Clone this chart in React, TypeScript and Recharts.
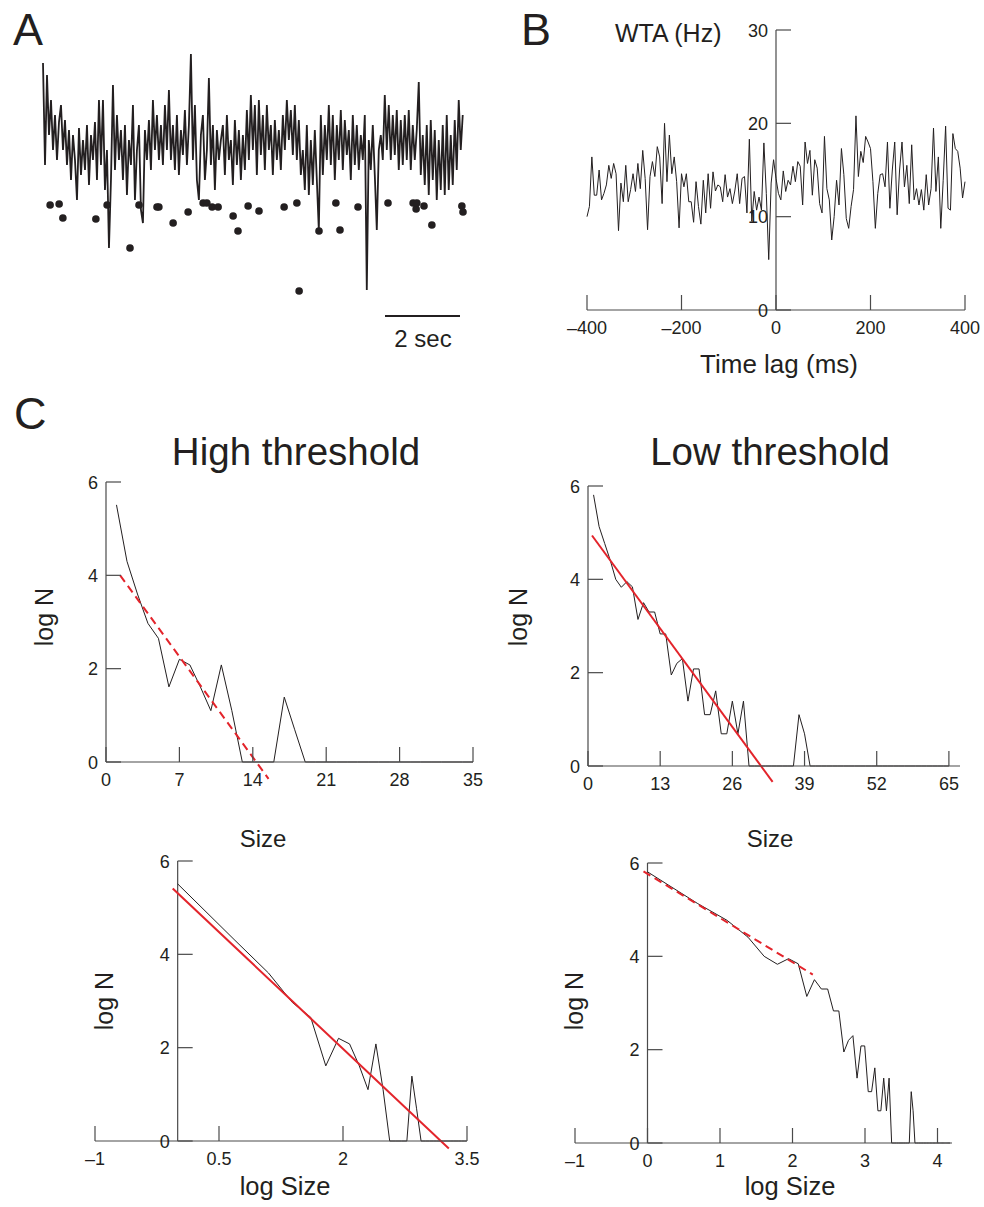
import { ComposedChart, LineChart, Line, Scatter, XAxis, YAxis, ReferenceLine } from "recharts";

const INK = "#231f20";
const AXIS = "#4a4a4a";
const RED = "#e3242b";
const FONT = '"Liberation Sans", Arial, Helvetica, sans-serif';

// A: membrane trace (arbitrary units) and detected events
const traceUnits = [
  237, 135, 225, 165, 200, 150, 185, 140, 178, 195,
  150, 180, 135, 170, 120, 165, 140, 100, 172, 125,
  160, 130, 175, 115, 165, 140, 178, 120, 200, 135,
  200, 110, 150, 52, 120, 215, 130, 185, 140, 170,
  120, 175, 105, 160, 135, 195, 100, 150, 175, 90,
  77, 170, 140, 180, 130, 200, 150, 185, 140, 175,
  135, 195, 150, 210, 140, 175, 130, 185, 125, 170,
  145, 190, 135, 175, 246, 140, 195, 120, 100, 165,
  185, 120, 150, 222, 135, 175, 110, 170, 140, 160,
  175, 125, 185, 140, 160, 115, 180, 135, 170, 120,
  165, 130, 190, 140, 205, 150, 195, 125, 200, 145,
  185, 130, 195, 150, 175, 125, 180, 140, 170, 130,
  185, 150, 200, 160, 190, 145, 195, 140, 180, 125,
  150, 110, 175, 105, 160, 115, 170, 120, 70, 185,
  125, 175, 140, 195, 135, 185, 120, 175, 140, 190,
  130, 180, 145, 170, 120, 185, 135, 175, 130, 165,
  140, 185, 10, 160, 130, 175, 125, 70, 150, 165,
  140, 205, 150, 195, 140, 185, 145, 190, 130, 180,
  135, 185, 140, 190, 130, 175, 140, 170, 218, 125,
  165, 115, 175, 105, 180, 120, 170, 100, 160, 110,
  175, 105, 185, 110, 165, 115, 180, 130, 200, 150,
  185,
];
const traceStepSec = 0.0533;
const eventTimesSec = [
  0.19, 0.43, 0.53, 1.41, 1.71, 2.32, 2.56, 3.04, 3.09, 3.47, 3.87, 4.27, 4.37, 4.51, 4.67, 5.07, 5.2,
  5.47, 5.76, 6.43, 6.77, 6.83, 7.36, 7.81, 7.92, 8.4, 9.2, 9.87, 9.95, 9.97, 10.16, 10.37, 11.17, 11.2,
];
const eventUnits = [
  95, 96, 82, 81, 95, 52, 95, 93, 93, 77, 88, 97, 97, 93, 93, 84, 69,
  94, 89, 93, 97, 9, 69, 97, 70, 93, 97, 97, 91, 97, 94, 75, 94, 88,
];
const scaleBarSec = [9.12, 11.12];

// B: wavelet triggered average
const wtaHz = [
  10.0, 11.1, 16.4, 12.3, 12.3, 15, 11.8, 12.5, 13.4, 15.5,
  14.1, 15.7, 14.6, 8.5, 13.6, 11.6, 15.5, 11.6, 12.9, 14.6,
  12.7, 15.7, 13, 17.1, 14.1, 8.6, 14.3, 15.9, 14.3, 17.5,
  16.4, 11.4, 20, 13.75, 18.75, 14.6, 16.4, 13.75, 8.8, 14.6,
  13.2, 14.6, 11.6, 11.6, 9.4, 13.75, 11.1, 9.2, 13.9, 10.4,
  14.6, 10.9, 14.8, 12.75, 13.4, 13.2, 11.6, 14.5, 12.1, 13,
  11.4, 12.75, 14.6, 11.4, 14.1, 14.3, 10.4, 18.3, 9.5, 12.7,
  10.7, 12.1, 10.7, 17.9, 12.5, 5.4, 13.6, 16.1, 14.1, 12.5,
  11.8, 14.9, 12.7, 13.9, 13.4, 15.4, 13.75, 15.9, 15.4, 11.25,
  18, 15.7, 17.1, 12.3, 16.1, 15.2, 11.4, 10.4, 18.6, 13,
  11.8, 7.5, 10, 13.9, 11.25, 17.3, 14.5, 9.8, 8.75, 11.1,
  12.9, 20.8, 14.3, 17, 15.8, 18.6, 18, 17.3, 13.75, 8.75,
  12.5, 14.5, 14.6, 13.2, 18, 10.9, 15, 18, 10.2, 15,
  18, 13.2, 15.5, 11.4, 17.7, 11.8, 13, 11.25, 12.9, 10.7,
  14.5, 11.25, 13, 19.5, 12.7, 16.4, 8.75, 13.9, 19.7, 10.9,
  10.7, 18.9, 17.3, 17, 15.2, 12, 13.75,
];
const lagTicks = [-400, -200, 0, 200, 400];
const wtaTicks = [0, 10, 20, 30];

// C: avalanche size distributions (log N, natural log)
const sizesHigh = Array.from({ length: 35 }, (_, i) => i + 1);
const logNHigh = [
  5.51, 4.3, 3.6, 2.97, 2.65, 1.61, 2.2, 2.08, 1.61, 1.1,
  2.08, 1.1, 0, 0, 0, 0, 1.39, 0.69, 0, 0,
  0, 0, 0, 0, 0, 0, 0, 0, 0, 0,
  0, 0, 0, 0, 0,
];
const sizesLow = Array.from({ length: 65 }, (_, i) => i + 1);
const logNLow = [
  5.81, 5.13, 4.77, 4.41, 4.0, 3.83, 3.95, 3.84, 3.14, 3.5,
  3.3, 3.3, 2.83, 2.83, 1.95, 2.2, 2.3, 1.39, 2.08, 2.08,
  1.1, 1.1, 1.61, 0.69, 0.69, 1.39, 0.69, 1.39, 0, 0,
  0, 0, 0, 0, 0, 0, 0, 1.1, 0.69, 0,
  0, 0, 0, 0, 0, 0, 0, 0, 0, 0,
  0, 0, 0, 0, 0, 0, 0, 0, 0, 0,
  0, 0, 0, 0, 0,
];
const fitHigh = { x: [1.35, 15.5], y: [4.0, -0.36] };
const fitLow = { x: [0.72, 33.25], y: [4.94, -0.34] };
const fitHighLog = { x: [-0.06, 3.28], y: [5.41, -0.16] };
const fitLowLog = { x: [-0.055, 2.28], y: [5.82, 3.61] };
const logNTicks = [0, 2, 4, 6];

type Fit = { x: number[]; y: number[] };
type Row = { x: number; y: number };

function fmt(v: number) {
  return v < 0 ? "\u2013" + Math.abs(v) : String(v);
}

function XTick(props: any) {
  const { x, y, payload } = props;
  return (
    <g>
      <line x1={x} x2={x} y1={y} y2={y - 15} stroke={AXIS} strokeWidth={1.2} />
      <text x={x} y={y + 24} textAnchor="middle" fontSize={18} fill={INK} fontFamily={FONT}>
        {fmt(payload.value)}
      </text>
    </g>
  );
}

function makeYTick(shift: number) {
  return (props: any) => {
    const { x, y, payload } = props;
    const ax = x + shift;
    return (
      <g>
        <line x1={ax} x2={ax + 15} y1={y} y2={y} stroke={AXIS} strokeWidth={1.2} />
        <text x={ax - 8} y={y + 6.5} textAnchor="end" fontSize={18} fill={INK} fontFamily={FONT}>
          {fmt(payload.value)}
        </text>
      </g>
    );
  };
}

const PAD = 45;

type PanelProps = {
  rect: [number, number, number, number]; // plot x0, y0, x1, y1 on the page
  xDomain: [number, number];
  xTicks: number[];
  yDomain: [number, number];
  yTicks: number[];
  yAxisAt: number;
  data: Row[];
  fit?: Fit;
  dashed?: boolean;
};

function Panel({ rect, xDomain, xTicks, yDomain, yTicks, yAxisAt, data, fit, dashed }: PanelProps) {
  const [x0, y0, x1, y1] = rect;
  const plotW = x1 - x0;
  const shift = ((yAxisAt - xDomain[0]) / (xDomain[1] - xDomain[0])) * plotW;
  // axes take 1px each, so margins are 1px smaller on those sides
  return (
    <div style={{ position: "absolute", left: x0 - PAD, top: y0 - PAD }}>
      <LineChart
        width={plotW + 2 * PAD}
        height={y1 - y0 + 2 * PAD}
        data={data}
        margin={{ top: PAD, right: PAD, bottom: PAD - 1, left: PAD - 1 }}
      >
        <XAxis
          type="number"
          dataKey="x"
          domain={xDomain}
          ticks={xTicks}
          interval={0}
          height={1}
          tickSize={0}
          tickMargin={0}
          tickLine={false}
          axisLine={{ stroke: AXIS, strokeWidth: 1.2 }}
          tick={<XTick />}
        />
        <YAxis
          type="number"
          domain={yDomain}
          ticks={yTicks}
          interval={0}
          width={1}
          tickSize={0}
          tickMargin={0}
          tickLine={false}
          axisLine={false}
          tick={makeYTick(shift)}
        />
        <ReferenceLine x={yAxisAt} stroke={AXIS} strokeWidth={1.2} ifOverflow="visible" />
        <Line
          type="linear"
          dataKey="y"
          stroke={INK}
          strokeWidth={1}
          dot={false}
          isAnimationActive={false}
        />
        {fit ? (
          <ReferenceLine
            segment={[
              { x: fit.x[0], y: fit.y[0] },
              { x: fit.x[1], y: fit.y[1] },
            ]}
            stroke={RED}
            strokeWidth={2}
            strokeDasharray={dashed ? "8 5" : undefined}
            ifOverflow="visible"
          />
        ) : null}
      </LineChart>
    </div>
  );
}

function TraceA() {
  const rows = traceUnits.map((v, i) => ({ t: i * traceStepSec, v }));
  const events = eventTimesSec.map((t, i) => ({ t, v: eventUnits[i] }));
  const x0 = 43;
  const y0 = 50;
  return (
    <div style={{ position: "absolute", left: x0 - PAD, top: y0 - PAD }}>
      <ComposedChart
        width={435 + 2 * PAD}
        height={250 + 2 * PAD}
        data={rows}
        margin={{ top: PAD, right: PAD, bottom: PAD, left: PAD }}
      >
        <XAxis type="number" dataKey="t" domain={[0, 11.6]} hide height={0} />
        <YAxis type="number" domain={[0, 250]} hide width={0} />
        <Line
          type="linear"
          dataKey="v"
          stroke={INK}
          strokeWidth={1.8}
          dot={false}
          isAnimationActive={false}
        />
        <Scatter
          data={events}
          dataKey="v"
          isAnimationActive={false}
          shape={(p: any) => <circle cx={p.cx} cy={p.cy} r={3.8} fill={INK} />}
        />
        <ReferenceLine
          segment={[
            { x: scaleBarSec[0], y: -16 },
            { x: scaleBarSec[1], y: -16 },
          ]}
          stroke={INK}
          strokeWidth={2}
          ifOverflow="visible"
        />
      </ComposedChart>
    </div>
  );
}

function Labels() {
  const t = (x: number, y: number, s: number, txt: string, anchor = "middle") => (
    <text x={x} y={y} fontSize={s} textAnchor={anchor} fill={INK} fontFamily={FONT}>
      {txt}
    </text>
  );
  const rot = (x: number, y: number, txt: string) => (
    <text
      x={x}
      y={y}
      fontSize={25}
      textAnchor="middle"
      fill={INK}
      fontFamily={FONT}
      transform={`rotate(-90 ${x} ${y})`}
    >
      {txt}
    </text>
  );
  return (
    <svg
      width={984}
      height={1207}
      style={{ position: "absolute", left: 0, top: 0, pointerEvents: "none" }}
    >
      {t(13, 45, 45, "A", "start")}
      {t(521, 45, 45, "B", "start")}
      {t(14, 429, 45, "C", "start")}
      {t(615, 42, 25, "WTA (Hz)", "start")}
      {t(423, 347, 24, "2 sec")}
      {t(779, 373, 26, "Time lag (ms)")}
      {t(296, 465, 38.5, "High threshold")}
      {t(770, 465, 38.5, "Low threshold")}
      {rot(53, 617, "log N")}
      {rot(527, 617, "log N")}
      {rot(113, 1001, "log N")}
      {rot(583, 1001, "log N")}
      {t(263, 847, 24, "Size")}
      {t(770, 847, 24, "Size")}
      {t(285, 1195, 25.5, "log Size")}
      {t(790, 1195, 25.5, "log Size")}
    </svg>
  );
}

export default function App() {
  const wtaRows = wtaHz.map((y, i) => ({ x: -400 + (800 * i) / (wtaHz.length - 1), y }));
  const highRows = sizesHigh.map((s, i) => ({ x: s, y: logNHigh[i] }));
  const lowRows = sizesLow.map((s, i) => ({ x: s, y: logNLow[i] }));
  const highLogRows = highRows
    .map((r) => ({ x: Math.log(r.x), y: r.y }))
    .filter((r) => r.x <= 3.5);
  const lowLogRows = lowRows.map((r) => ({ x: Math.log(r.x), y: r.y }));

  return (
    <div
      style={{
        position: "absolute",
        left: 0,
        top: 0,
        width: 984,
        height: 1207,
        background: "#fff",
        overflow: "hidden",
      }}
    >
      <TraceA />
      <Panel
        rect={[587, 30, 965, 310]}
        xDomain={[-400, 400]}
        xTicks={lagTicks}
        yDomain={[0, 30]}
        yTicks={wtaTicks}
        yAxisAt={0}
        data={wtaRows}
      />
      <Panel
        rect={[106, 482, 473, 762]}
        xDomain={[0, 35]}
        xTicks={[0, 7, 14, 21, 28, 35]}
        yDomain={[0, 6]}
        yTicks={logNTicks}
        yAxisAt={0}
        data={highRows}
        fit={fitHigh}
        dashed
      />
      <Panel
        rect={[588, 486, 960, 766]}
        xDomain={[0, 67]}
        xTicks={[0, 13, 26, 39, 52, 65]}
        yDomain={[0, 6]}
        yTicks={logNTicks}
        yAxisAt={0}
        data={lowRows}
        fit={fitLow}
      />
      <Panel
        rect={[95, 861, 467, 1141]}
        xDomain={[-1, 3.5]}
        xTicks={[-1, 0.5, 2, 3.5]}
        yDomain={[0, 6]}
        yTicks={logNTicks}
        yAxisAt={0}
        data={highLogRows}
        fit={fitHighLog}
      />
      <Panel
        rect={[575, 863, 952, 1143]}
        xDomain={[-1, 4.2]}
        xTicks={[-1, 0, 1, 2, 3, 4]}
        yDomain={[0, 6]}
        yTicks={logNTicks}
        yAxisAt={0}
        data={lowLogRows}
        fit={fitLowLog}
        dashed
      />
      <Labels />
    </div>
  );
}
